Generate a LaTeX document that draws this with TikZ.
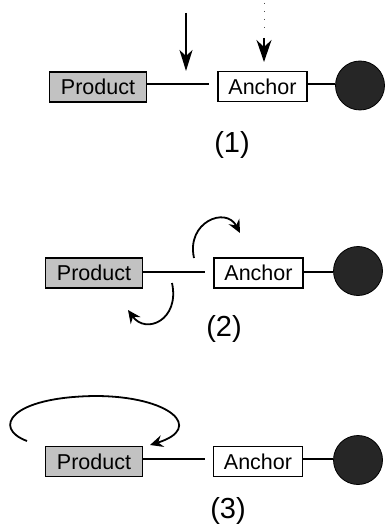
\documentclass[tikz,border=0pt]{standalone}
\usepackage{fontspec}
\setmainfont{Liberation Sans}
\usetikzlibrary{arrows.meta}
\begin{document}
\begin{tikzpicture}[x=1pt,y=-1pt,
  box/.style={draw=black,line width=1.8pt,minimum height=30pt,inner sep=0pt,
    font=\fontsize{21.5}{23}\selectfont},
  prodbox/.style={box,fill=black!24,minimum width=97pt},
  anchbox/.style={box,fill=white,minimum width=89pt},
  bead/.style={circle,fill=black!85,draw=black,line width=0.8pt,minimum size=49pt,inner sep=0pt},
  link/.style={line width=1.8pt},
  lab/.style={font=\fontsize{29}{31}\selectfont},
  bigarrow/.style={line width=1.8pt,-{Stealth[length=21pt,width=13pt,inset=6pt]}},
  curvarrow/.style={line width=1.8pt,-{Stealth[length=13pt,width=12pt,inset=4.5pt]}}]
\useasboundingbox (0,0) rectangle (385,529);

% ---------- panel 1 ----------
\node[prodbox] (p1) at (98,87) {Product};
\node[anchbox] (a1) at (262.5,86.5) {Anchor};
\node[bead] (b1) at (360,85.5) {};
\coordinate (g1) at (209,84);
\draw[link] (p1.east |- g1) -- (g1);
\draw[link] (a1.east |- 0,84) -- (b1.west |- 0,84);
\coordinate (s1) at (186,13);
\coordinate (t1) at (186,71);
\draw[bigarrow] (s1) -- (t1);
\coordinate (d1) at (264,3);
\coordinate (d2) at (264,30);
\coordinate (d3) at (264,38);
\coordinate (d4) at (264,62);
\draw[line width=0.9pt,dash pattern=on 1pt off 7pt,black!70] (d1) -- (d2);
\draw[line width=1.4pt,-{Stealth[length=22pt,width=15pt,inset=7pt]}] (d3) -- (d4);
\node[lab] (l1) at (232,145) {(1)};

% ---------- panel 2 ----------
\node[prodbox] (p2) at (94,273) {Product};
\node[anchbox] (a2) at (258.5,273) {Anchor};
\node[bead] (b2) at (358,271) {};
\coordinate (g2) at (205,272);
\draw[link] (p2.east |- g2) -- (g2);
\draw[link] (a2.east |- 0,272) -- (b2.west |- 0,272);
\coordinate (u1) at (194,258);
\coordinate (u2) at (240,233);
\draw[curvarrow] (u1) .. controls (186,222) and (226,206) .. (u2);
\coordinate (v1) at (172,283);
\coordinate (v2) at (128,310);
\draw[curvarrow] (v1) .. controls (180,320) and (146,335) .. (v2);
\node[lab] (l2) at (224,329) {(2)};

% ---------- panel 3 ----------
\node[prodbox] (p3) at (94,461.5) {Product};
\node[anchbox] (a3) at (258,461.5) {Anchor};
\node[bead] (b3) at (358,460) {};
\coordinate (g3) at (205,459);
\draw[link] (p3.east |- g3) -- (g3);
\draw[link] (a3.east |- 0,459) -- (b3.west |- 0,459);
\coordinate (w1) at (27,441);
\coordinate (w2) at (150,445);
\draw[curvarrow] (w1) .. controls (-8,428) and (10,397) .. (95,396)
  .. controls (170,396) and (205,428) .. (w2);
\node[lab] (l3) at (228,511) {(3)};
\end{tikzpicture}
\end{document}
